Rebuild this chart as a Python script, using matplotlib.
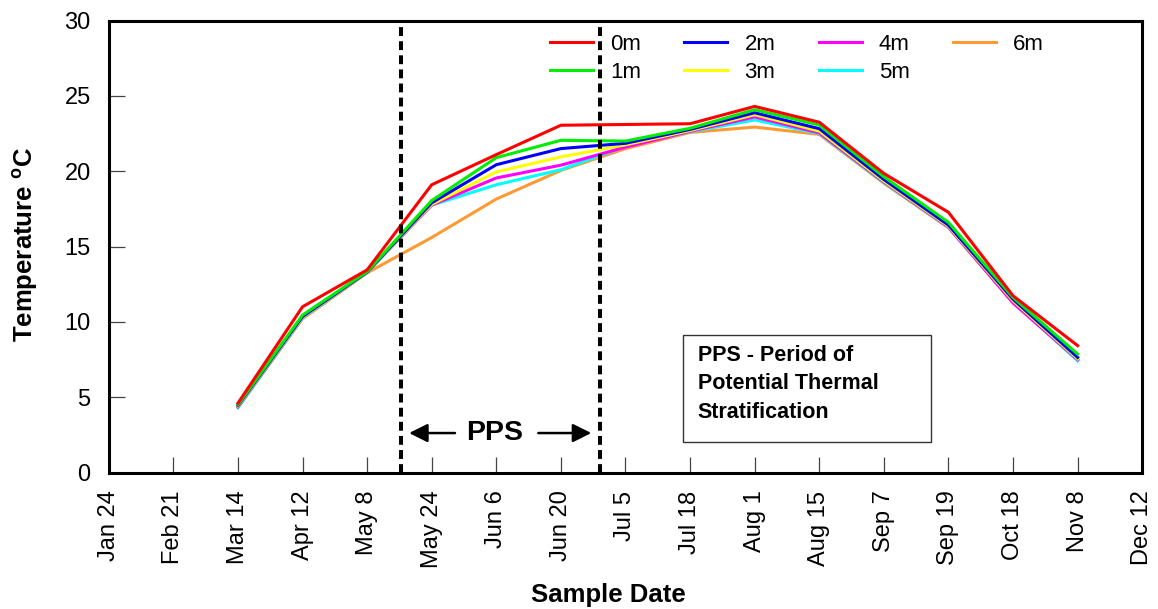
import matplotlib.pyplot as plt
from matplotlib.patches import Rectangle

plt.rcParams['font.family'] = ['Liberation Sans', 'DejaVu Sans']
plt.rcParams['mathtext.fontset'] = 'custom'
plt.rcParams['mathtext.rm'] = 'Liberation Sans'
plt.rcParams['mathtext.bf'] = 'Liberation Sans:bold'

# sample dates on the axis (equally spaced categories)
dates = ['Jan 24', 'Feb 21', 'Mar 14', 'Apr 12', 'May 8', 'May 24', 'Jun 6',
         'Jun 20', 'Jul 5', 'Jul 18', 'Aug 1', 'Aug 15', 'Sep 7', 'Sep 19',
         'Oct 18', 'Nov 8', 'Dec 12']
# sampling ran from Mar 14 to Nov 8
first_sample = 2

depth_0m = [4.6, 11.0, 13.45, 19.1, 21.1, 23.05, 23.1, 23.15, 24.3, 23.25, 19.85, 17.27, 11.73, 8.42]
depth_1m = [4.5, 10.45, 13.33, 18.05, 20.9, 22.05, 22.0, 22.85, 24.08, 23.06, 19.63, 16.6, 11.62, 7.86]
depth_2m = [4.45, 10.35, 13.3, 17.9, 20.43, 21.5, 21.85, 22.77, 23.88, 22.82, 19.45, 16.42, 11.5, 7.64]
depth_3m = [4.4, 10.3, 13.3, 17.8, 19.95, 20.95, 21.75, 22.7, 23.75, 22.66, 19.35, 16.35, 11.4, 7.55]
depth_4m = [4.35, 10.3, 13.3, 17.75, 19.55, 20.4, 21.6, 22.65, 23.6, 22.55, 19.3, 16.3, 11.25, 7.5]
depth_5m = [4.3, 10.25, 13.3, 17.75, 19.1, 20.1, 21.65, 22.62, 23.4, 22.5, 19.25, 16.28, 11.3, 7.42]
depth_6m = [4.35, 10.2, 13.25, 15.6, 18.15, 20.05, 21.5, 22.57, 22.93, 22.44, 19.2, 16.25, 11.3, 7.45]

series = [('0m', depth_0m, '#ff0000'), ('1m', depth_1m, '#00ee00'),
          ('2m', depth_2m, '#0000ff'), ('3m', depth_3m, '#ffff00'),
          ('4m', depth_4m, '#ff00ff'), ('5m', depth_5m, '#00ffff'),
          ('6m', depth_6m, '#ff9933')]

# stratification period boundaries (between sample dates)
pps_start = 4.53
pps_end = 7.6

fig = plt.figure(figsize=(11.58, 6.09), dpi=100)
ax = fig.add_axes([0.0939, 0.2241, 0.8925, 0.7422])

x = list(range(first_sample, first_sample + len(depth_0m)))
handles = {}
for name, vals, col in reversed(series):
    line, = ax.plot(x, vals, color=col, lw=2.2, label=name)
    handles[name] = line

ax.axvline(pps_start, color='black', lw=2.9, ls=(0, (2.2, 1.3)))
ax.axvline(pps_end, color='black', lw=2.9, ls=(0, (2.2, 1.3)))

ax.set_xlim(0, 16)
ax.set_ylim(0, 30)
ax.set_xticks(range(len(dates)))
ax.set_xticklabels(dates, rotation=90)
ax.set_yticks(range(0, 31, 5))
ax.tick_params(direction='in', length=11.5, width=0.9, color='#444444',
               labelsize=17, pad=13)

for sp in ax.spines.values():
    sp.set_linewidth(2.2)

# axis titles placed on the figure
fig.text(0.525, 0.023, 'Sample Date', fontsize=18.5, fontweight='bold',
         ha='center', va='center')
fig.text(0.022, 0.598, r'Temperature $\mathbf{^o}$C', fontsize=18.5,
         fontweight='bold', rotation=90, ha='center', va='center')

names = [s[0] for s in series]
ax.legend([handles[n] for n in names], names, ncol=4, frameon=False,
          loc='upper left', bbox_to_anchor=(0.427, 0.97), borderpad=0,
          borderaxespad=0, fontsize=16, handlelength=1.94, handletextpad=0.77,
          columnspacing=1.94, labelspacing=0.3)

# PPS arrows and label
arrow = dict(arrowstyle='-|>', color='black', lw=1.8, mutation_scale=28,
             shrinkA=0, shrinkB=0)
ax.annotate('', xy=(4.65, 2.62), xytext=(5.36, 2.62), arrowprops=arrow)
ax.annotate('', xy=(7.47, 2.62), xytext=(6.65, 2.62), arrowprops=arrow)
ax.text(5.98, 2.62, 'PPS', fontsize=20.5, fontweight='bold', ha='center', va='center')

# explanation box
ax.add_patch(Rectangle((0.5557, 0.0675), 0.2399, 0.2365, transform=ax.transAxes,
                       fill=False, edgecolor='#333333', lw=1))
ax.text(0.570, 0.196, 'PPS - Period of\nPotential Thermal\nStratification',
        transform=ax.transAxes, fontsize=15.5, fontweight='bold',
        ha='left', va='center', linespacing=1.48)

fig.savefig('out.png', dpi=100)
